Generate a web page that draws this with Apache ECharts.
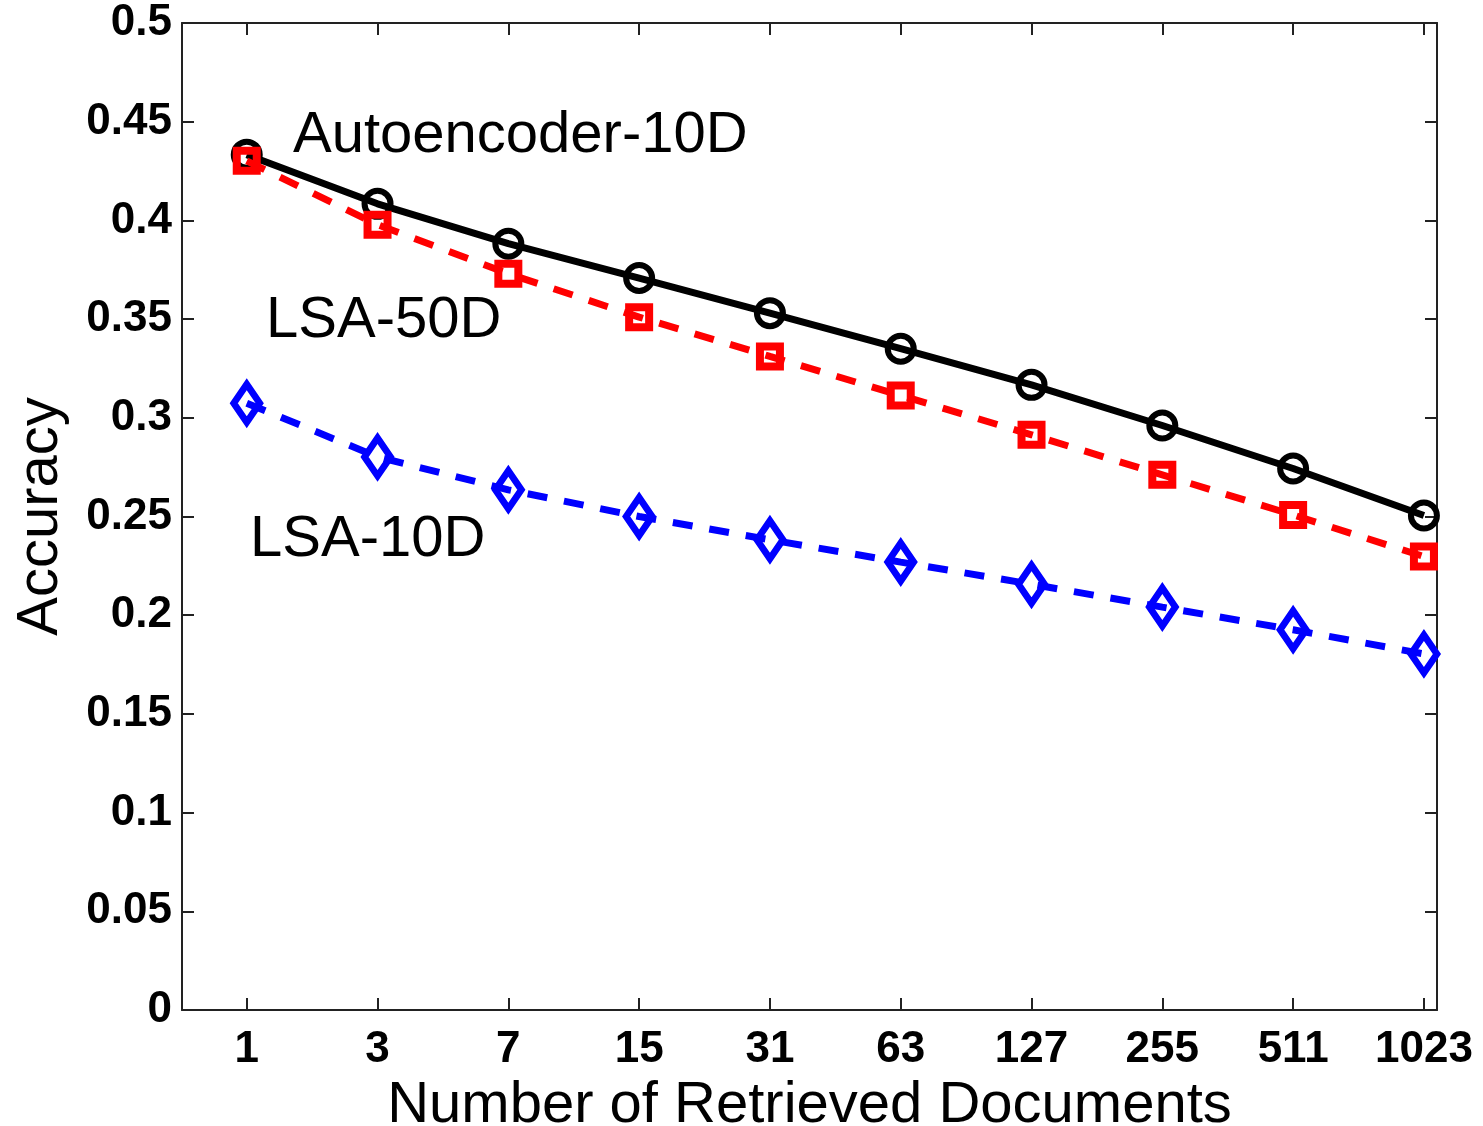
<!DOCTYPE html>
<html>
<head>
<meta charset="utf-8">
<script src="https://cdn.jsdelivr.net/npm/echarts@6/dist/echarts.min.js"></script>
<style>html,body{margin:0;padding:0;background:#fff;}#c{width:1483px;height:1126px;}</style>
</head>
<body>
<div id="c"></div>
<script>
const categories = ['1','3','7','15','31','63','127','255','511','1023'];
const autoencoder10D = [0.4333,0.4084,0.3882,0.3708,0.3530,0.3350,0.3167,0.2961,0.2743,0.2505];
const lsa50D = [0.4302,0.3978,0.3730,0.3510,0.3311,0.3113,0.2914,0.2711,0.2508,0.2297];
const lsa10D = [0.3074,0.2802,0.2635,0.2500,0.2382,0.2269,0.2157,0.2041,0.1926,0.1804];
const yTicks = [0,0.05,0.1,0.15,0.2,0.25,0.3,0.35,0.4,0.45,0.5];

const FONT = '"Liberation Sans", Arial, sans-serif';
const idx = categories.map((c,i)=>i);
const toPts = arr => arr.map((v,i)=>[i,v]);

const chart = echarts.init(document.getElementById('c'), null, {renderer:'canvas'});
const axisLine = {show:true, onZero:false, lineStyle:{color:'#222', width:2}};
const tick = {show:true, inside:true, length:12, lineStyle:{color:'#222', width:2}};
const clear = 'rgba(255,255,255,0)';
chart.setOption({
  backgroundColor:'#fff',
  animation:false,
  grid:{left:182, right:46, top:23, bottom:116, containLabel:false, outerBoundsMode:'none'},
  xAxis:[{
    type:'value', min:-0.495, max:9.1, position:'bottom',
    axisLine:axisLine,
    axisTick:Object.assign({customValues:idx}, tick),
    axisLabel:{customValues:idx, formatter:v=>categories[Math.round(v)], fontFamily:FONT, fontWeight:'bold', fontSize:44, color:'#000', margin:18},
    splitLine:{show:false},
    name:'Number of Retrieved Documents', nameLocation:'middle', nameGap:60,
    nameTextStyle:{fontFamily:FONT, fontSize:58, color:'#000'}
  },{
    type:'value', min:-0.495, max:9.1, position:'top',
    axisLine:axisLine,
    axisTick:Object.assign({customValues:idx}, tick),
    axisLabel:{show:false}, splitLine:{show:false}
  }],
  yAxis:[{
    type:'value', min:0, max:0.5, interval:0.05, position:'left',
    axisLine:axisLine, axisTick:tick,
    axisLabel:{customValues:yTicks, formatter:v=>String(+v.toFixed(2)), fontFamily:FONT, fontWeight:'bold', fontSize:44, color:'#000', margin:10},
    splitLine:{show:false},
    name:'Accuracy', nameLocation:'middle', nameGap:112,
    nameTextStyle:{fontFamily:FONT, fontSize:58, color:'#000'}
  },{
    type:'value', min:0, max:0.5, interval:0.05, position:'right',
    axisLine:axisLine, axisTick:tick,
    axisLabel:{show:false}, splitLine:{show:false}
  }],
  series:[{
    name:'Autoencoder-10D', type:'line', data:toPts(autoencoder10D),
    symbol:'circle', symbolSize:26,
    lineStyle:{color:'#000', width:7},
    itemStyle:{color:clear, borderColor:'#000', borderWidth:6},
    z:2
  },{
    name:'LSA-50D', type:'line', data:toPts(lsa50D),
    symbol:'rect', symbolSize:20,
    lineStyle:{color:'#ff0000', width:7, type:[20,17]},
    itemStyle:{color:clear, borderColor:'#ff0000', borderWidth:8},
    z:3
  },{
    name:'LSA-10D', type:'line', data:toPts(lsa10D),
    symbol:'diamond', symbolSize:[26,38],
    lineStyle:{color:'#0000ff', width:7, type:[20,17]},
    itemStyle:{color:clear, borderColor:'#0000ff', borderWidth:7},
    z:4
  }],
  graphic:[
    {type:'text', left:293, top:137-30, style:{text:'Autoencoder-10D', font:'58px '+FONT, fill:'#000'}},
    {type:'text', left:266, top:322-30, style:{text:'LSA-50D', font:'58px '+FONT, fill:'#000'}},
    {type:'text', left:250, top:541-30, style:{text:'LSA-10D', font:'58px '+FONT, fill:'#000'}}
  ]
});
</script>
</body>
</html>
